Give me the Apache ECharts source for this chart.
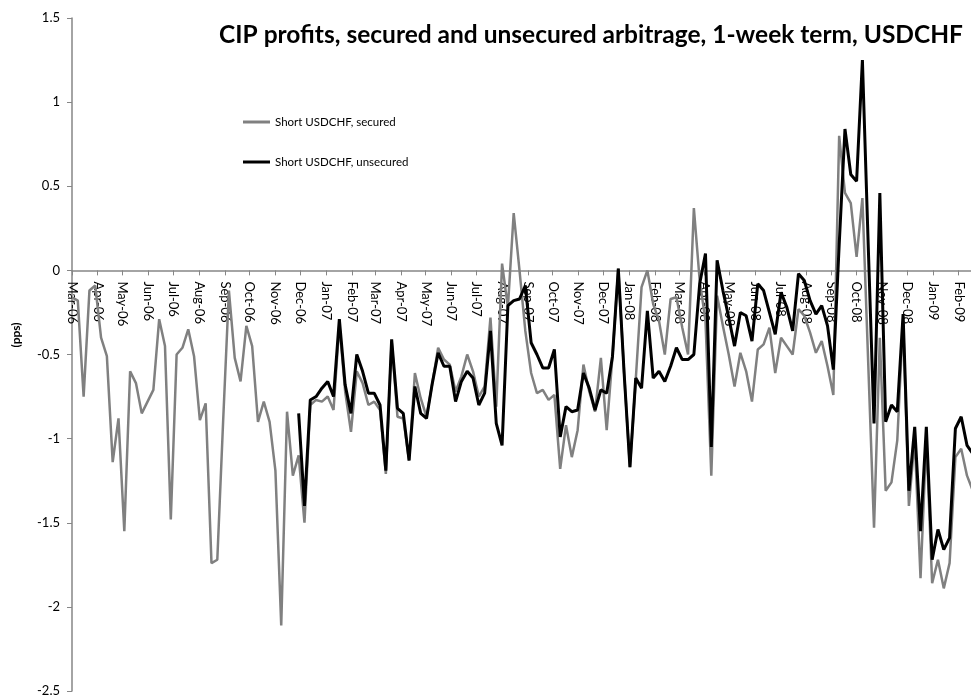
<!DOCTYPE html>
<html><head><meta charset="utf-8">
<script src="https://cdn.jsdelivr.net/npm/echarts@6/dist/echarts.min.js"></script>
<style>html,body{margin:0;padding:0;background:#fff}#c{width:971px;height:695px}</style>
</head><body><div id="c"></div>
<script>
const chartTitle = 'CIP profits, secured and unsecured arbitrage, 1-week term, USDCHF';
const yAxisTitle = '(pps)';
const seriesNames = ['Short USDCHF, secured', 'Short USDCHF, unsecured'];
const firstWeek = [2006, 2, 1];      // first weekly observation (UTC y, m0, d)
const weekCount = 156;
const unsecuredFirstIndex = 39;      // unsecured series starts at this week

const monthLabels = ['Mar-06','Apr-06','May-06','Jun-06','Jul-06','Aug-06','Sep-06','Oct-06','Nov-06','Dec-06',
  'Jan-07','Feb-07','Mar-07','Apr-07','May-07','Jun-07','Jul-07','Aug-07','Sep-07','Oct-07','Nov-07','Dec-07',
  'Jan-08','Feb-08','Mar-08','Apr-08','May-08','Jun-08','Jul-08','Aug-08','Sep-08','Oct-08','Nov-08','Dec-08',
  'Jan-09','Feb-09'];

const secured = [
  -0.16,-0.18,-0.75,-0.12,-0.09,-0.40,-0.51,-1.14,-0.88,-1.55,
  -0.60,-0.67,-0.85,-0.78,-0.71,-0.29,-0.45,-1.48,-0.50,-0.46,
  -0.35,-0.51,-0.89,-0.79,-1.74,-1.72,-0.90,-0.12,-0.52,-0.66,
  -0.33,-0.45,-0.90,-0.78,-0.90,-1.19,-2.11,-0.84,-1.22,-1.10,
  -1.50,-0.80,-0.77,-0.78,-0.75,-0.83,-0.32,-0.72,-0.96,-0.60,
  -0.67,-0.80,-0.78,-0.83,-1.21,-0.42,-0.87,-0.88,-1.13,-0.61,
  -0.76,-0.87,-0.67,-0.46,-0.53,-0.56,-0.72,-0.63,-0.50,-0.60,
  -0.75,-0.69,-0.28,-0.81,0.04,-0.22,0.34,0.00,-0.36,-0.61,
  -0.73,-0.71,-0.77,-0.74,-1.18,-0.92,-1.11,-0.95,-0.56,-0.72,
  -0.84,-0.52,-0.95,-0.51,0.01,-0.61,-1.17,-0.65,-0.10,0.00,
  -0.20,-0.30,-0.50,-0.17,-0.16,-0.34,-0.50,0.37,-0.06,-0.30,
  -1.22,-0.15,-0.33,-0.50,-0.69,-0.49,-0.60,-0.78,-0.47,-0.44,
  -0.34,-0.61,-0.40,-0.45,-0.50,-0.23,-0.27,-0.37,-0.49,-0.42,
  -0.57,-0.74,0.80,0.46,0.40,0.08,0.43,-0.55,-1.53,-0.40,
  -1.31,-1.26,-1.01,-0.30,-1.40,-1.00,-1.83,-1.00,-1.86,-1.72,
  -1.89,-1.74,-1.11,-1.06,-1.22,-1.31
];

const unsecured = [
  -0.85,-1.40,-0.77,-0.75,-0.70,-0.66,-0.75,-0.29,-0.68,-0.85,-0.50,
  -0.60,-0.73,-0.73,-0.80,-1.19,-0.41,-0.82,-0.85,-1.13,-0.69,
  -0.85,-0.88,-0.67,-0.49,-0.57,-0.57,-0.78,-0.66,-0.60,-0.64,
  -0.80,-0.73,-0.36,-0.91,-1.04,-0.21,-0.18,-0.17,-0.09,-0.43,
  -0.50,-0.58,-0.58,-0.47,-0.99,-0.81,-0.84,-0.83,-0.61,-0.70,
  -0.83,-0.71,-0.73,-0.51,0.01,-0.61,-1.17,-0.64,-0.70,-0.24,
  -0.64,-0.60,-0.66,-0.57,-0.46,-0.53,-0.53,-0.50,-0.08,0.10,
  -1.05,0.06,-0.12,-0.28,-0.45,-0.25,-0.27,-0.42,-0.08,-0.12,
  -0.25,-0.38,-0.13,-0.22,-0.36,-0.02,-0.06,-0.18,-0.26,-0.21,
  -0.33,-0.59,0.15,0.84,0.57,0.53,1.25,0.15,-0.91,0.46,
  -0.90,-0.80,-0.84,-0.26,-1.31,-0.93,-1.55,-0.93,-1.72,-1.54,
  -1.66,-1.59,-0.94,-0.87,-1.04,-1.09
];

const yMin = -2.5, yMax = 1.5;
const DAY = 86400000;
const t0 = Date.UTC(firstWeek[0], firstWeek[1], firstWeek[2]);
const weekDays = Array.from({length: weekCount}, (_, i) => 7 * i);
const monthDays = monthLabels.map((_, k) => Math.round((Date.UTC(2006, 2 + k, 1) - t0) / DAY));
const xMax = Math.round((Date.UTC(2009, 1, 15, 19) - t0) / DAY * 10) / 10;

const securedData = secured.map((v, i) => [weekDays[i], v]);
const unsecuredData = unsecured.map((v, i) => [weekDays[i + unsecuredFirstIndex], v]);

const FONT = "Lato, 'Liberation Sans', Arial, sans-serif";
const AXIS_GREY = '#868686';
const GRID = {left: 72, right: 0, top: 18, bottom: 4};
const plotH = 695 - GRID.top - GRID.bottom;
// place the category axis line where y = 0 (Excel "horizontal axis crosses at 0")
const zeroOffset = -(yMax / (yMax - yMin)) * plotH;

const chart = echarts.init(document.getElementById('c'), null, {renderer: 'canvas'});
chart.setOption({
  animation: false,
  backgroundColor: '#fff',
  grid: Object.assign({containLabel: false, outerBoundsMode: 'none'}, GRID),
  graphic: [
    {type: 'text', x: 591, y: 35, style: {text: chartTitle, fill: '#000', align: 'center', verticalAlign: 'middle',
      fontSize: 24.5, fontWeight: 'bold', fontFamily: FONT}},
    {type: 'text', x: 16, y: 335, rotation: Math.PI / 2, style: {text: yAxisTitle, fill: '#000', align: 'center',
      verticalAlign: 'middle', fontSize: 12, fontWeight: 'bold', fontFamily: FONT}}
  ],
  legend: {
    orient: 'vertical', left: 243, top: 113, padding: 0, itemWidth: 27, itemHeight: 14, itemGap: 22,
    itemStyle: {borderWidth: 0},
    textStyle: {fontSize: 11.5, color: '#000', fontFamily: FONT, lineHeight: 18},
    data: seriesNames.map(n => ({name: n, icon: 'path://M0,0 L27,0 L27,3 L0,3 Z'}))
  },
  xAxis: {
    type: 'value', min: 0, max: xMax, position: 'top', offset: zeroOffset,
    axisLine: {show: true, onZero: false, lineStyle: {color: AXIS_GREY, width: 1.5}},
    axisTick: {show: true, inside: true, length: 5, customValues: monthDays, lineStyle: {color: AXIS_GREY, width: 1}},
    axisLabel: {show: true, inside: true, rotate: 90, margin: 11, fontSize: 13, color: '#000', fontFamily: FONT,
      customValues: monthDays, hideOverlap: false,
      formatter: v => monthLabels[monthDays.indexOf(Math.round(v))] || ''},
    splitLine: {show: false}
  },
  yAxis: {
    type: 'value', min: yMin, max: yMax, interval: 0.5,
    axisLine: {show: true, onZero: false, lineStyle: {color: AXIS_GREY, width: 1.5}},
    axisTick: {show: true, length: 5, lineStyle: {color: AXIS_GREY, width: 1}},
    axisLabel: {fontSize: 13, color: '#000', margin: 12, fontFamily: FONT},
    splitLine: {show: false}
  },
  series: [
    {name: seriesNames[0], type: 'line', data: securedData, symbol: 'none', showSymbol: false,
      lineStyle: {color: '#808080', width: 2.5}, itemStyle: {color: '#808080'}, z: 2},
    {name: seriesNames[1], type: 'line', data: unsecuredData, symbol: 'none', showSymbol: false,
      lineStyle: {color: '#000', width: 3}, itemStyle: {color: '#000'}, z: 3}
  ]
});
</script>
</body></html>
